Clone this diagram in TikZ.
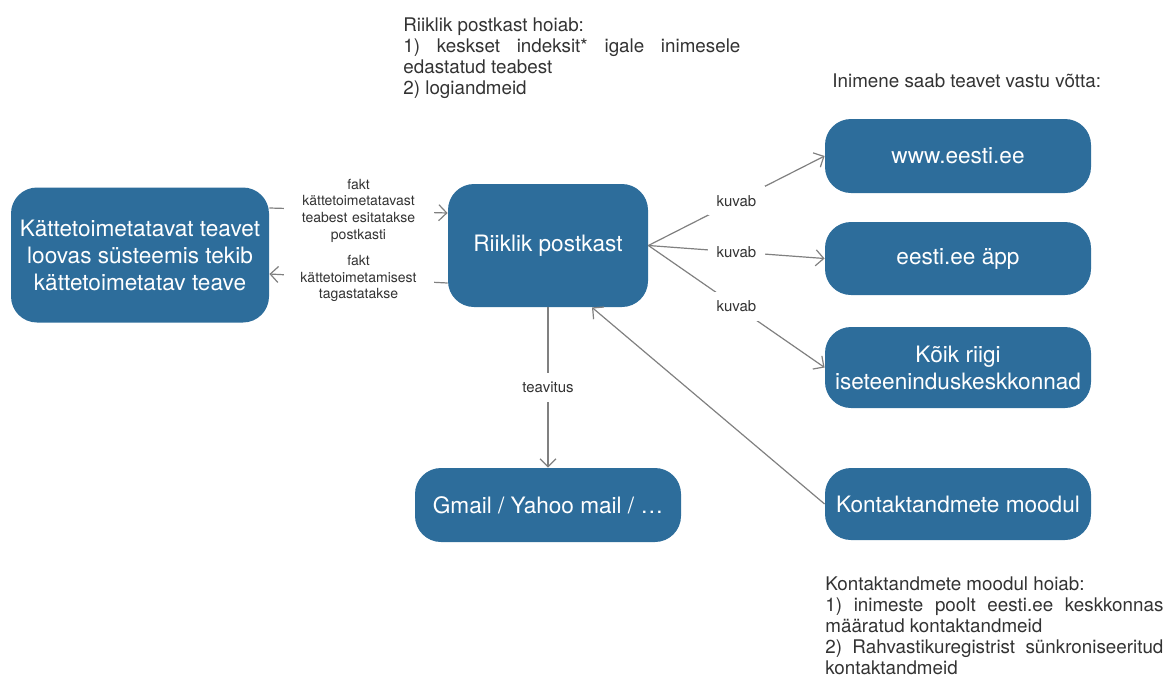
\documentclass[tikz,border=0pt]{standalone}
\usepackage{fontspec}
\setmainfont{TeX Gyre Heros}
\usepackage{xcolor}
\usetikzlibrary{arrows.meta}
\definecolor{boxblue}{RGB}{45,109,155}
\definecolor{linegray}{RGB}{128,128,128}
\definecolor{txtgray}{RGB}{51,51,51}

\begin{document}
\begin{tikzpicture}
  [x=0.5pt,y=-0.5pt,
   box/.style={rectangle,rounded corners=13pt,fill=boxblue,text=white,align=center,
     inner sep=0pt,font=\fontsize{11.3}{13.5}\selectfont},
   lbl/.style={fill=white,text=txtgray,inner sep=4.5pt,align=center,
     font=\fontsize{7.5}{8.3}\selectfont},
   note/.style={text=txtgray,inner sep=0pt,
     font={\fontsize{9.4}{10.6}\selectfont\hyphenpenalty=10000\relax\tolerance=10000\relax}},
   arr/.style={draw=linegray,line width=0.6pt,-{Straight Barb[length=4pt,width=8pt]}}]
  \useasboundingbox (0,0) rectangle (1169,681);

  \node[box,minimum width=129pt,minimum height=67.5pt] (src) at (140,255)
    {Kättetoimetatavat teavet\\loovas süsteemis tekib\\kättetoimetatav teave};
  \node[box,minimum width=100pt,minimum height=61.5pt] (post) at (548,245.5) {Riiklik postkast};
  \node[box,minimum width=133pt,minimum height=37pt] (www) at (958,156) {www.eesti.ee};
  \node[box,minimum width=133pt,minimum height=36.5pt] (app) at (958,258.5) {eesti.ee äpp};
  \node[box,minimum width=133pt,minimum height=40.5pt] (iseteen) at (958,367.5) {Kõik riigi\\iseteeninduskeskkonnad};
  \node[box,minimum width=133pt,minimum height=36pt] (kontakt) at (958,504) {Kontaktandmete moodul};
  \node[box,minimum width=133pt,minimum height=37pt] (mail) at (548,505) {Gmail / Yahoo mail / …};

  \node[note,text width=168.5pt,align=justify,anchor=north west] (posthoiab) at (403,17)
    {Riiklik postkast hoiab:\\1) keskset indeksit* igale inimesele edastatud teabest\\2) logiandmeid};
  \node[note,anchor=base west] (inimene) at (832,87) {Inimene saab teavet vastu võtta:};
  \node[note,text width=169pt,align=justify,anchor=north west] (kontakthoiab) at (825,576)
    {Kontaktandmete moodul hoiab:\\1) inimeste poolt eesti.ee keskkonnas määratud kontaktandmeid\\2) Rahvastikuregistrist sünkroniseeritud kontaktandmeid};

  \draw[arr] ([yshift=23.5pt]src.east) -- node[lbl,text width=66pt,font=\fontsize{7}{8.3}\selectfont] (fakt1)
    {fakt\\kättetoimetatavast\\teabest esitatakse\\postkasti} ([yshift=16.25pt]post.west);
  \draw[arr] ([yshift=-18.75pt]post.west) -- node[lbl,text width=66pt,font=\fontsize{7}{8.3}\selectfont] (fakt2)
    {fakt\\kättetoimetamisest\\tagastatakse} ([yshift=-9.5pt]src.east);

  \foreach \to in {www,app,iseteen}
    \draw[arr] (post.east) -- node[lbl] (kuvab\to) {kuvab} (\to.west);

  \draw[arr] (post.south) -- node[lbl] (teavitus) {teavitus} (mail.north);
  \draw[arr] (kontakt.west) -- ([xshift=22pt]post.south);

\end{tikzpicture}
\end{document}
